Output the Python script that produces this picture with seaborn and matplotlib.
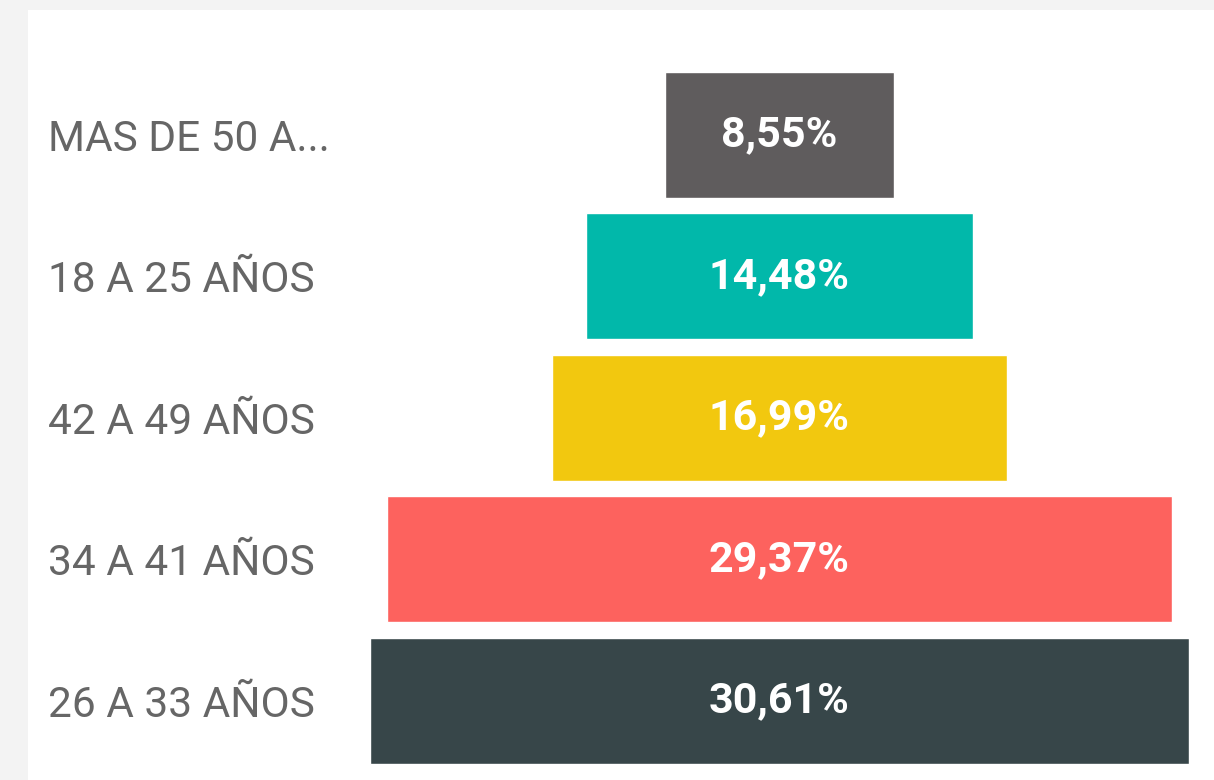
import matplotlib
matplotlib.use("Agg")
import matplotlib.pyplot as plt
import matplotlib.patches as mpatches
import seaborn as sns

grupos = ['MAS DE 50 A...', '18 A 25 AÑOS', '42 A 49 AÑOS', '34 A 41 AÑOS', '26 A 33 AÑOS']
porcentajes = [8.55, 14.48, 16.99, 29.37, 30.61]
etiquetas = ['8,55%', '14,48%', '16,99%', '29,37%', '30,61%']
colores = ['#5f5c5d', '#01b8aa', '#f2c80f', '#fd625e', '#374649']

sns.set_style("white")
plt.rcParams['font.family'] = ['Roboto', 'DejaVu Sans']

fig = plt.figure(figsize=(12.14, 7.80), dpi=100, facecolor='#f3f3f3')
# tarjeta blanca del visual
fig.patches.append(mpatches.Rectangle((28 / 1214, 0), 1, 770 / 780, transform=fig.transFigure,
                                      facecolor='white', edgecolor='none', zorder=-5))
ax = fig.add_axes([370 / 1214, 0.0105, 819 / 1214, 0.9075])
ax.set_facecolor('none')
ax.set_zorder(2)

df = {'grupo': grupos, 'valor': porcentajes}
sns.barplot(data=df, x='valor', y='grupo', hue='grupo', palette=colores, orient='h',
            width=0.89, saturation=1, legend=False, ax=ax)

# centrar cada barra para formar el embudo
maximo = max(porcentajes)
for barra, v, txt in zip(ax.patches, porcentajes, etiquetas):
    barra.set_x((maximo - v) / 2)
    ax.text(maximo / 2, barra.get_y() + barra.get_height() / 2, txt, ha='center', va='center',
            color='white', fontsize=31, fontweight='bold')

ax.set_xlim(0, maximo)
ax.set_ylim(4.5, -0.5)
ax.set_xlabel('')
ax.set_ylabel('')
ax.set_xticks([])
sns.despine(ax=ax, left=True, bottom=True)
ax.tick_params(axis='y', length=0, pad=322 * 0.72, labelsize=30.5, labelcolor='#666666')
for lab in ax.get_yticklabels():
    lab.set_horizontalalignment('left')

fig.savefig('out.png', dpi=100, facecolor=fig.get_facecolor())
